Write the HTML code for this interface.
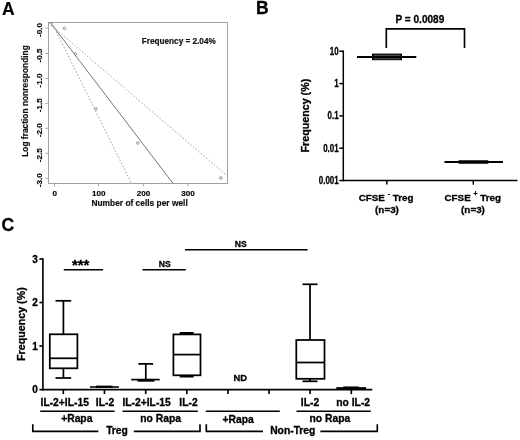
<!DOCTYPE html>
<html>
<head>
<meta charset="utf-8">
<title>Figure</title>
<style>
html,body{margin:0;padding:0;background:#fff;}
body{width:520px;height:440px;overflow:hidden;}
svg{display:block;will-change:transform;filter:blur(0.35px);}
text{font-family:"Liberation Sans",Arial,sans-serif;font-weight:bold;fill:#000;}
#panelB text,#panelC text{stroke:#000;stroke-width:0.3px;}
#panelA text{stroke:#111;stroke-width:0.18px;}
svg text.pl{stroke:#000;stroke-width:0.35px;}
.pl{font-size:17.5px;}
.a-lab{font-size:8.4px;fill:#111;}
.a-tick{font-size:8.1px;fill:#111;}
.b-lab{font-size:10.7px;}
.b-tick{font-size:10.5px;}
.c-tick{font-size:10px;}
.c-x{font-size:10.3px;}
.k{stroke:#000;fill:none;}
</style>
</head>
<body>
<svg width="520" height="440" viewBox="0 0 520 440">
<rect x="0" y="0" width="520" height="440" fill="#fff"/>

<!-- ================= Panel A ================= -->
<g id="panelA">
<text class="pl" x="2" y="14.5">A</text>
<rect x="48.5" y="22.5" width="179" height="161" fill="none" stroke="#a2a2a2" stroke-width="1"/>
<!-- y ticks -->
<g stroke="#9c9c9c" stroke-width="0.9">
<line x1="45.4" y1="28" x2="48" y2="28"/>
<line x1="45.4" y1="53.5" x2="48" y2="53.5"/>
<line x1="45.4" y1="78.5" x2="48" y2="78.5"/>
<line x1="45.4" y1="103.3" x2="48" y2="103.3"/>
<line x1="45.4" y1="128.3" x2="48" y2="128.3"/>
<line x1="45.4" y1="153.3" x2="48" y2="153.3"/>
<line x1="45.4" y1="178.3" x2="48" y2="178.3"/>
<line x1="54.5" y1="183.5" x2="54.5" y2="186.3"/>
<line x1="98.6" y1="183.5" x2="98.6" y2="186.3"/>
<line x1="143.3" y1="183.5" x2="143.3" y2="186.3"/>
<line x1="187.8" y1="183.5" x2="187.8" y2="186.3"/>
</g>
<g class="a-tick" text-anchor="middle">
<text transform="translate(41.8,30.0) rotate(-90)">-0.0</text>
<text transform="translate(41.8,55.5) rotate(-90)">-0.5</text>
<text transform="translate(41.8,80.5) rotate(-90)">-1.0</text>
<text transform="translate(41.8,105.3) rotate(-90)">-1.5</text>
<text transform="translate(41.8,130.3) rotate(-90)">-2.0</text>
<text transform="translate(41.8,155.3) rotate(-90)">-2.5</text>
<text transform="translate(41.8,180.3) rotate(-90)">-3.0</text>
<text x="54.8" y="196">0</text>
<text x="98.8" y="196">100</text>
<text x="143.6" y="196">200</text>
<text x="188" y="196">300</text>
</g>
<text class="a-lab" text-anchor="middle" transform="translate(27.6,101) rotate(-90)">Log fraction nonresponding</text>
<text class="a-lab" text-anchor="middle" x="139.6" y="206.1">Number of cells per well</text>
<text class="a-lab" style="font-size:8.2px" x="141.8" y="43.8">Frequency = 2.04%</text>
<!-- lines -->
<line x1="50.3" y1="22.5" x2="173.1" y2="183.5" stroke="#666" stroke-width="0.9"/>
<line x1="51.8" y1="22.5" x2="131.5" y2="183.5" stroke="#939393" stroke-width="0.9" stroke-dasharray="1.5,1.9"/>
<line x1="48.5" y1="22.9" x2="227.5" y2="176.2" stroke="#939393" stroke-width="0.9" stroke-dasharray="1.5,1.9"/>
<!-- points -->
<g fill="none" stroke="#7a7a7a" stroke-width="0.8">
<circle cx="64.5" cy="28.3" r="1.3"/>
<circle cx="75.5" cy="53.8" r="1.3"/>
<circle cx="95.8" cy="108.8" r="1.3"/>
<circle cx="137.8" cy="143" r="1.3"/>
<circle cx="220.8" cy="178" r="1.3"/>
</g>
</g>

<!-- ================= Panel B ================= -->
<g id="panelB">
<text class="pl" x="256" y="14.2">B</text>
<g class="k" stroke-width="1.5">
<line x1="343.3" y1="50.5" x2="343.3" y2="181.15"/>
<line x1="342.6" y1="180.4" x2="517.5" y2="180.4"/>
<line x1="339.3" y1="51.2" x2="343.3" y2="51.2"/>
<line x1="339.3" y1="83.6" x2="343.3" y2="83.6"/>
<line x1="339.3" y1="115.9" x2="343.3" y2="115.9"/>
<line x1="339.3" y1="148.2" x2="343.3" y2="148.2"/>
<line x1="339.3" y1="180.5" x2="343.3" y2="180.5"/>
<line x1="386.8" y1="180.5" x2="386.8" y2="184.6"/>
<line x1="473.3" y1="180.5" x2="473.3" y2="184.6"/>
</g>
<g class="b-tick" text-anchor="end">
<text transform="translate(338.7,54.6) scale(0.76,1)">10</text>
<text transform="translate(338.7,87.0) scale(0.76,1)">1</text>
<text transform="translate(338.7,119.3) scale(0.76,1)">0.1</text>
<text transform="translate(338.7,151.6) scale(0.76,1)">0.01</text>
<text transform="translate(338.7,183.9) scale(0.76,1)">0.001</text>
</g>
<text class="b-lab" text-anchor="middle" transform="translate(308.8,115.6) rotate(-90)">Frequency (%)</text>
<!-- bracket -->
<polyline class="k" stroke-width="1.65" points="386.3,48 386.3,28.9 464.5,28.9 464.5,48"/>
<text class="b-lab" transform="translate(395.5,22.8) scale(0.95,1)" style="font-size:10.6px">P = 0.0089</text>
<!-- box 1 -->
<line class="k" stroke-width="1.8" x1="357" y1="57" x2="416.3" y2="57"/>
<rect x="372" y="53.6" width="30" height="6.6" fill="#000"/>
<line x1="373.5" y1="55.3" x2="400.5" y2="55.3" stroke="#777" stroke-width="0.8"/>
<line x1="373.5" y1="58.8" x2="400.5" y2="58.8" stroke="#777" stroke-width="0.8"/>
<!-- box 2 -->
<line class="k" stroke-width="1.8" x1="444.5" y1="162" x2="503" y2="162"/>
<rect x="458.3" y="160.3" width="30.2" height="3.5" rx="0.8" fill="#000"/>
<!-- x labels -->
<g class="b-lab" text-anchor="middle" style="font-size:9.85px">
<text x="386.1" y="200.7">CFSE <tspan dy="-5" style="font-size:7px">-</tspan><tspan dy="5"> Treg</tspan></text>
<text x="387" y="213.3">(n=3)</text>
<text x="472.8" y="200.7">CFSE <tspan dy="-4.6" style="font-size:7px">+</tspan><tspan dy="4.6"> Treg</tspan></text>
<text x="473" y="213.3">(n=3)</text>
</g>
</g>

<!-- ================= Panel C ================= -->
<g id="panelC">
<text class="pl" x="1.5" y="230.5">C</text>
<g class="k" stroke-width="1.65">
<line x1="42.9" y1="258.3" x2="42.9" y2="390.4"/>
<line x1="42.1" y1="389.65" x2="372.3" y2="389.65"/>
<line x1="39.4" y1="259.0" x2="42.9" y2="259.0"/>
<line x1="39.4" y1="302.5" x2="42.9" y2="302.5"/>
<line x1="39.4" y1="346.0" x2="42.9" y2="346.0"/>
<line x1="39.4" y1="389.65" x2="42.9" y2="389.65"/>
<line x1="63.3" y1="389.65" x2="63.3" y2="394.1"/>
<line x1="104.45" y1="389.65" x2="104.45" y2="394.1"/>
<line x1="145.7" y1="389.65" x2="145.7" y2="394.1"/>
<line x1="186.8" y1="389.65" x2="186.8" y2="394.1"/>
<line x1="227.9" y1="389.65" x2="227.9" y2="394.1"/>
<line x1="269.05" y1="389.65" x2="269.05" y2="394.1"/>
<line x1="310.1" y1="389.65" x2="310.1" y2="394.1"/>
<line x1="351.3" y1="389.65" x2="351.3" y2="394.1"/>
</g>
<g class="c-tick" text-anchor="end">
<text x="37.7" y="262.6">3</text>
<text x="37.7" y="306.1">2</text>
<text x="37.7" y="349.6">1</text>
<text x="37.7" y="393.1">0</text>
</g>
<text class="b-lab" text-anchor="middle" transform="translate(24.8,324.1) rotate(-90)">Frequency (%)</text>

<!-- significance -->
<g class="k" stroke-width="1.65">
<line x1="63.8" y1="269.7" x2="103.1" y2="269.7"/>
<line x1="142.5" y1="269.7" x2="185.8" y2="269.7"/>
<line x1="185" y1="249.7" x2="307.6" y2="249.7"/>
</g>
<text x="80.7" y="270" text-anchor="middle" style="font-size:15px">***</text>
<text x="164.8" y="266.8" text-anchor="middle" style="font-size:8.6px">NS</text>
<text x="240.8" y="247.4" text-anchor="middle" style="font-size:8.6px">NS</text>
<text x="240.3" y="380.8" text-anchor="middle" style="font-size:9.4px">ND</text>

<!-- boxes -->
<g class="k" stroke-width="1.75">
<!-- box1 -->
<rect x="49.8" y="334.3" width="27.6" height="34"/>
<line x1="49.8" y1="358.3" x2="77.4" y2="358.3"/>
<line x1="63.4" y1="300.8" x2="63.4" y2="334.3"/>
<line x1="63.4" y1="368.3" x2="63.4" y2="378"/>
<line x1="55.5" y1="300.8" x2="71.2" y2="300.8"/>
<line x1="55.5" y1="378" x2="71.2" y2="378"/>
<!-- box2 -->
<line x1="90" y1="387" x2="118.9" y2="387" stroke-width="1.6"/>
<line x1="96" y1="386.7" x2="112.5" y2="386.7" stroke-width="2.2"/>
<!-- box3 -->
<line x1="138.3" y1="363.9" x2="153.1" y2="363.9"/>
<line x1="145.8" y1="363.9" x2="145.8" y2="379.5"/>
<line x1="131.2" y1="379.6" x2="159.7" y2="379.6" stroke-width="1.7"/>
<line x1="137.5" y1="380.6" x2="154.3" y2="380.6" stroke-width="2.2"/>
<!-- box4 -->
<rect x="173.4" y="334.4" width="27.1" height="40.9"/>
<line x1="173.4" y1="354.6" x2="200.5" y2="354.6"/>
<line x1="179.7" y1="333.2" x2="193.7" y2="333.2" stroke-width="2.4"/>
<line x1="179.7" y1="376.3" x2="193.7" y2="376.3" stroke-width="2.4"/>
<!-- box5 -->
<rect x="296.3" y="340" width="28.2" height="38.8"/>
<line x1="296.3" y1="362.5" x2="324.5" y2="362.5"/>
<line x1="310" y1="284.3" x2="310" y2="340"/>
<line x1="310" y1="378.8" x2="310" y2="381.3"/>
<line x1="302.5" y1="284.3" x2="317.5" y2="284.3"/>
<line x1="302.5" y1="381.3" x2="317.5" y2="381.3"/>
<!-- box6 -->
<line x1="336.3" y1="388.1" x2="366.1" y2="388.1" stroke-width="1.9"/>
<line x1="343.3" y1="387.2" x2="358.8" y2="387.2" stroke-width="1.5"/>
</g>

<!-- x labels -->
<g class="c-x" text-anchor="middle">
<text x="64.7" y="405.6">IL-2+IL-15</text>
<text x="105" y="405.6">IL-2</text>
<text x="146.6" y="405.6">IL-2+IL-15</text>
<text x="188.5" y="405.6">IL-2</text>
<text x="310" y="405.6">IL-2</text>
<text x="353.2" y="405.6">no IL-2</text>
<text x="76.8" y="421.6">+Rapa</text>
<text x="160.6" y="421.8">no Rapa</text>
<text x="238.1" y="423.4">+Rapa</text>
<text x="329.9" y="421.9">no Rapa</text>
<text x="117" y="433.7">Treg</text>
<text x="292.8" y="433.8">Non-Treg</text>
</g>
<g class="k" stroke-width="1.65">
<line x1="40.2" y1="411.2" x2="114.6" y2="411.2"/>
<line x1="122.5" y1="411.2" x2="197.8" y2="411.2"/>
<line x1="205.8" y1="411.2" x2="279.8" y2="411.2"/>
<line x1="296.5" y1="411.2" x2="370.8" y2="411.2"/>
<polyline points="32.8,424.2 32.8,431.3 98.3,431.3"/>
<polyline points="133.8,431.3 200,431.3 200,424.2"/>
<polyline points="206.3,424.2 206.3,431.3 263,431.3"/>
<polyline points="320.4,431.3 377.3,431.3 377.3,424.2"/>
</g>
</g>
</svg>
</body>
</html>
